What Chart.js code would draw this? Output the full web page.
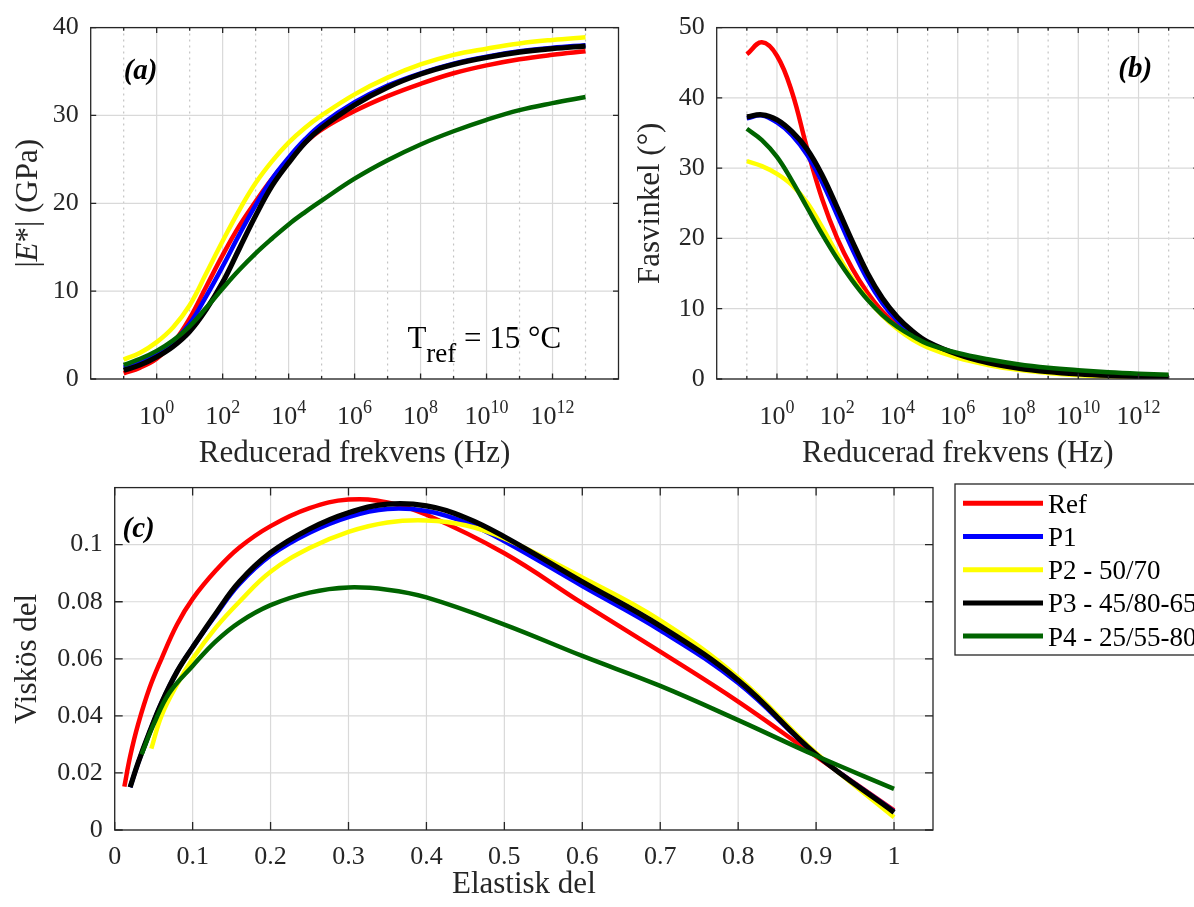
<!DOCTYPE html>
<html>
<head>
<meta charset="utf-8">
<title>Masterkurvor</title>
<script src="https://cdn.jsdelivr.net/npm/chart.js@4.4.1/dist/chart.umd.min.js"></script>
<style>
  html, body { margin: 0; padding: 0; background: #fff; }
  body { position: relative; width: 1194px; height: 907px; overflow: hidden; }
  canvas { position: absolute; }
  #chartA { left: 0; top: 0; }
  #chartB { left: 620px; top: 0; }
  #chartC { left: 0; top: 460px; }
</style>
</head>
<body>
<canvas id="chartA" width="660" height="490"></canvas>
<canvas id="chartB" width="600" height="490"></canvas>
<canvas id="chartC" width="1194" height="447"></canvas>
<script>
// --- data ---------------------------------------------------------------
const seriesNames = ['Ref', 'P1', 'P2 - 50/70', 'P3 - 45/80-65', 'P4 - 25/55-80'];

// reduced frequency, log10(Hz)
const freqExp = [-1, -0.5, 0, 0.5, 1, 1.5, 2, 2.5, 3, 3.5, 4, 4.5, 5, 6, 7, 8, 9, 10, 11, 12, 13];

// |E*| (GPa)
const modRef = [0.65, 1.3, 2.3, 4.1, 6.9, 10.5, 14.1, 17.4, 20.2, 22.8, 25.0, 26.9, 28.4, 30.5, 32.2, 33.6, 34.8, 35.7, 36.4, 36.9, 37.3];
const modP1  = [1.3, 1.9, 2.8, 4.2, 6.3, 9.4, 12.8, 16.4, 19.8, 22.8, 25.2, 27.3, 29.0, 31.5, 33.4, 34.8, 35.9, 36.7, 37.3, 37.7, 38.0];
const modP2  = [2.2, 3.0, 4.2, 5.9, 8.4, 12.0, 15.7, 19.2, 22.3, 24.8, 26.9, 28.6, 30.0, 32.4, 34.3, 35.8, 36.9, 37.6, 38.2, 38.6, 38.9];
const modP3  = [1.0, 1.6, 2.5, 3.7, 5.4, 7.9, 11.0, 14.8, 18.6, 22.0, 24.6, 26.9, 28.6, 31.2, 33.2, 34.7, 35.8, 36.6, 37.2, 37.6, 37.9];
const modP4  = [1.6, 2.3, 3.2, 4.4, 6.0, 8.1, 10.3, 12.4, 14.3, 16.0, 17.6, 19.0, 20.3, 22.8, 24.9, 26.7, 28.2, 29.5, 30.6, 31.4, 32.1];

// phase angle (degrees)
const phaseRef = [46.2, 47.9, 46.0, 40.8, 32.8, 25.6, 20.0, 15.7, 12.3, 9.6, 7.6, 6.1, 4.9, 3.3, 2.3, 1.55, 1.05, 0.72, 0.5, 0.35, 0.25];
const phaseP1  = [37.1, 37.5, 36.5, 34.7, 31.9, 28.0, 23.3, 18.5, 14.2, 10.8, 8.3, 6.5, 5.1, 3.4, 2.3, 1.55, 1.05, 0.72, 0.5, 0.36, 0.28];
const phaseP2  = [31.0, 30.3, 29.2, 27.6, 25.1, 21.6, 17.8, 14.3, 11.4, 9.0, 7.1, 5.6, 4.5, 3.0, 2.0, 1.3, 0.85, 0.55, 0.38, 0.27, 0.2];
const phaseP3  = [37.3, 37.6, 36.9, 35.2, 32.7, 29.0, 24.4, 19.6, 15.1, 11.5, 8.8, 6.8, 5.3, 3.5, 2.3, 1.55, 1.05, 0.72, 0.5, 0.36, 0.28];
const phaseP4  = [35.6, 34.0, 31.6, 28.2, 24.4, 20.6, 17.1, 14.0, 11.3, 9.1, 7.4, 6.1, 5.0, 3.7, 2.8, 2.1, 1.6, 1.25, 0.97, 0.76, 0.6];

// Cole-Cole: elastic part vs viscous part
const elastRef = [0.0124, 0.02, 0.03, 0.045, 0.06, 0.08, 0.1, 0.13, 0.16, 0.2, 0.25, 0.3, 0.35, 0.4, 0.5, 0.6, 0.7, 0.8, 0.9, 1.0];
const viskRef  = [0.0152, 0.026, 0.037, 0.050, 0.060, 0.072, 0.081, 0.091, 0.099, 0.1065, 0.1128, 0.1158, 0.1148, 0.1105, 0.097, 0.0795, 0.0625, 0.045, 0.0258, 0.0069];
const elastP1  = [0.0198, 0.03, 0.045, 0.06, 0.08, 0.1, 0.13, 0.16, 0.2, 0.25, 0.3, 0.35, 0.4, 0.45, 0.5, 0.6, 0.7, 0.8, 0.9, 1.0];
const viskP1   = [0.015, 0.0235, 0.0345, 0.0445, 0.0555, 0.064, 0.0755, 0.0862, 0.0962, 0.1042, 0.1097, 0.1125, 0.1118, 0.1078, 0.1012, 0.0855, 0.070, 0.0515, 0.0265, 0.0065];
const elastP2  = [0.047, 0.06, 0.08, 0.1, 0.13, 0.16, 0.2, 0.25, 0.3, 0.35, 0.4, 0.45, 0.5, 0.6, 0.7, 0.8, 0.9, 1.0];
const viskP2   = [0.0285, 0.040, 0.051, 0.060, 0.071, 0.080, 0.0905, 0.0988, 0.1045, 0.1078, 0.1085, 0.1068, 0.1022, 0.0885, 0.0735, 0.0535, 0.027, 0.0045];
const elastP3  = [0.0198, 0.03, 0.045, 0.06, 0.08, 0.1, 0.13, 0.16, 0.2, 0.25, 0.3, 0.35, 0.4, 0.45, 0.5, 0.6, 0.7, 0.8, 0.9, 1.0];
const viskP3   = [0.015, 0.0235, 0.0345, 0.0445, 0.0555, 0.064, 0.076, 0.087, 0.0972, 0.1055, 0.1112, 0.1142, 0.1136, 0.1095, 0.1028, 0.087, 0.0715, 0.0525, 0.0265, 0.0062];
const elastP4  = [0.0345, 0.05, 0.07, 0.1, 0.13, 0.16, 0.2, 0.25, 0.3, 0.35, 0.4, 0.5, 0.6, 0.7, 0.8, 0.9, 1.0];
const viskP4   = [0.0265, 0.037, 0.048, 0.0575, 0.0662, 0.0728, 0.0788, 0.0832, 0.085, 0.0842, 0.0815, 0.072, 0.061, 0.0505, 0.0385, 0.026, 0.0144];

// axes
const freqLimExp = [-2, 14];
const freqTickExp = [-1, 0, 1, 2, 3, 4, 5, 6, 7, 8, 9, 10, 11, 12, 13];
const freqLabelExp = [0, 2, 4, 6, 8, 10, 12];
const modTicks = [0, 10, 20, 30, 40];
const phaseTicks = [0, 10, 20, 30, 40, 50];
const elastTicks = [0, 0.1, 0.2, 0.3, 0.4, 0.5, 0.6, 0.7, 0.8, 0.9, 1];
const viskTicks = [0, 0.02, 0.04, 0.06, 0.08, 0.1];

// --- styling ------------------------------------------------------------
const seriesColors = ['#ff0000', '#0000ff', '#ffff00', '#000000', '#006400'];
const seriesWidths = [4.5, 4.5, 4.5, 5.2, 4.5];
const FONT = '"Liberation Serif", "Times New Roman", Times, serif';
const INK = '#262626';

const freqHz = freqExp.map(e => Math.pow(10, e));
const pairUp = (xs, ys) => xs.map((x, j) => ({ x: x, y: ys[j] }));

function lineSets(curves) {
  return curves.map((pts, i) => ({
    label: seriesNames[i],
    data: pts,
    borderColor: seriesColors[i],
    backgroundColor: seriesColors[i],
    borderWidth: seriesWidths[i],
    borderCapStyle: 'butt',
    pointRadius: 0,
    fill: false,
    tension: 0.4,
    order: curves.length - i   // last series ends up on top
  }));
}

function isOddDecade(v) {
  return Math.abs(Math.round(Math.log10(v))) % 2 === 1;
}

// draw a run of differently styled text pieces from (x, y) on the baseline
function drawParts(ctx, parts, x, y, align) {
  let total = 0;
  parts.forEach(p => { ctx.font = p.font; p.w = ctx.measureText(p.text).width; total += p.w; });
  let cx = align === 'center' ? x - total / 2 : x;
  parts.forEach(p => {
    ctx.font = p.font;
    ctx.fillText(p.text, cx, y + (p.dy || 0));
    cx += p.w;
  });
}

// box, inward ticks, major/minor grid, power-of-ten labels and notes
const matlabAxes = {
  id: 'matlabAxes',
  beforeDatasetsDraw(chart, args, o) {
    const { ctx, chartArea: a } = chart;
    const xs = chart.scales.x, ys = chart.scales.y;
    ctx.save();
    ctx.lineWidth = 1.2;
    xs.ticks.forEach(t => {
      const px = xs.getPixelForValue(t.value);
      const minor = o.logX && isOddDecade(t.value);
      ctx.strokeStyle = minor ? '#c4c4c4' : '#d9d9d9';
      ctx.setLineDash(minor ? [2, 4] : []);
      ctx.beginPath(); ctx.moveTo(px, a.top); ctx.lineTo(px, a.bottom); ctx.stroke();
    });
    ctx.setLineDash([]);
    ctx.strokeStyle = '#d9d9d9';
    ys.ticks.forEach(t => {
      const py = ys.getPixelForValue(t.value);
      ctx.beginPath(); ctx.moveTo(a.left, py); ctx.lineTo(a.right, py); ctx.stroke();
    });
    ctx.restore();
  },
  afterDatasetsDraw(chart, args, o) {
    const { ctx, chartArea: a } = chart;
    const xs = chart.scales.x, ys = chart.scales.y;
    const L = o.tickLen;
    ctx.save();
    ctx.strokeStyle = INK;
    ctx.lineWidth = 1.3;
    ctx.strokeRect(a.left, a.top, a.right - a.left, a.bottom - a.top);
    ctx.beginPath();
    xs.ticks.forEach(t => {
      const px = xs.getPixelForValue(t.value);
      const len = o.logX && isOddDecade(t.value) ? L * 0.55 : L;
      ctx.moveTo(px, a.bottom); ctx.lineTo(px, a.bottom - len);
      ctx.moveTo(px, a.top); ctx.lineTo(px, a.top + len);
    });
    ys.ticks.forEach(t => {
      const py = ys.getPixelForValue(t.value);
      ctx.moveTo(a.left, py); ctx.lineTo(a.left + L, py);
      ctx.moveTo(a.right, py); ctx.lineTo(a.right - L, py);
    });
    ctx.stroke();

    ctx.fillStyle = INK;
    ctx.textAlign = 'left';
    ctx.textBaseline = 'alphabetic';
    if (o.logX) {
      freqLabelExp.forEach(e => {
        const px = xs.getPixelForValue(Math.pow(10, e));
        drawParts(ctx, [
          { text: '10', font: '26px ' + FONT },
          { text: String(e), font: '18px ' + FONT, dy: -11.5 }
        ], px, a.bottom + 45, 'center');
      });
    }
    (o.notes || []).forEach(n => {
      ctx.fillStyle = n.color || INK;
      drawParts(ctx, n.parts, xs.getPixelForValue(n.x), ys.getPixelForValue(n.y), 'left');
    });
    if (o.yTitleParts) {
      ctx.translate(o.yTitleX, (a.top + a.bottom) / 2);
      ctx.rotate(-Math.PI / 2);
      ctx.fillStyle = INK;
      drawParts(ctx, o.yTitleParts, 0, 0, 'center');
    }
    ctx.restore();
  }
};

// boxed legend to the right of the Cole-Cole plot
const sideLegend = {
  id: 'sideLegend',
  afterDraw(chart, args, o) {
    const { ctx } = chart;
    ctx.save();
    ctx.fillStyle = '#fff';
    ctx.fillRect(o.left, o.top, o.width, o.height);
    ctx.strokeStyle = INK;
    ctx.lineWidth = 1.3;
    ctx.strokeRect(o.left, o.top, o.width, o.height);
    ctx.font = '27px ' + FONT;
    ctx.textBaseline = 'alphabetic';
    chart.data.datasets.forEach((ds, i) => {
      const yc = o.top + o.firstRow + i * o.rowStep;
      ctx.strokeStyle = ds.borderColor;
      ctx.lineWidth = 5;
      ctx.beginPath();
      ctx.moveTo(o.left + 8, yc); ctx.lineTo(o.left + 88, yc);
      ctx.stroke();
      ctx.fillStyle = '#000';
      ctx.fillText(ds.label, o.left + 93, yc + 9.5);
    });
    ctx.restore();
  }
};

const common = {
  responsive: false,
  animation: false,
  devicePixelRatio: 1,
  events: []
};

function logAxis(title, height, titlePad) {
  return {
    type: 'logarithmic',
    min: Math.pow(10, freqLimExp[0]),
    max: Math.pow(10, freqLimExp[1]),
    afterBuildTicks: s => { s.ticks = freqTickExp.map(e => ({ value: Math.pow(10, e) })); },
    afterFit: s => { s.height = height; },
    ticks: { display: false },
    grid: { display: false, drawTicks: false },
    border: { display: false },
    title: { display: true, text: title, color: INK, font: { family: FONT, size: 31 }, padding: { top: 0, bottom: titlePad } }
  };
}

function linAxis(tickVals, min, max, fit, title, titlePad) {
  const horizontal = fit.height !== undefined;
  return {
    type: 'linear',
    min: min,
    max: max,
    afterBuildTicks: s => { s.ticks = tickVals.map(v => ({ value: v })); },
    afterFit: s => { if (horizontal) s.height = fit.height; else s.width = fit.width; },
    ticks: { color: INK, font: { family: FONT, size: 26 }, padding: 12, autoSkip: false, maxRotation: 0, callback: v => String(v) },
    grid: { display: false, drawTicks: false },
    border: { display: false },
    title: title
      ? { display: true, text: title, color: INK, font: { family: FONT, size: 31 }, padding: horizontal ? { top: 0, bottom: titlePad } : { top: titlePad, bottom: 0 } }
      : { display: false }
  };
}

// (a) dynamic modulus master curves
new Chart(document.getElementById('chartA'), {
  type: 'line',
  data: { datasets: lineSets([modRef, modP1, modP2, modP3, modP4].map(ys => pairUp(freqHz, ys))) },
  options: Object.assign({}, common, {
    layout: { padding: { left: 0, top: 25, right: 41.5, bottom: 0 } },
    scales: {
      x: logAxis('Reducerad frekvens (Hz)', 111, 17.5),
      y: linAxis(modTicks, 0, 40, { width: 90.7 }, null, 0)
    },
    plugins: {
      legend: { display: false },
      tooltip: { enabled: false },
      matlabAxes: {
        logX: true,
        tickLen: 5.5,
        yTitleX: 36.5,
        yTitleParts: [
          { text: '|', font: '31px ' + FONT },
          { text: 'E', font: 'italic 31px ' + FONT },
          { text: '*', font: '31px ' + FONT },
          { text: '| (GPa)', font: '31px ' + FONT }
        ],
        notes: [
          { x: Math.pow(10, -1), y: 34.1, parts: [{ text: '(a)', font: 'italic bold 29px ' + FONT }], color: '#000' },
          { x: Math.pow(10, 7.6), y: 3.5, parts: [
            { text: 'T', font: '31px ' + FONT },
            { text: 'ref', font: '27px ' + FONT, dy: 14 },
            { text: ' = 15 °C', font: '31px ' + FONT }
          ], color: '#000' }
        ]
      }
    }
  }),
  plugins: [matlabAxes]
});

// (b) phase angle master curves
new Chart(document.getElementById('chartB'), {
  type: 'line',
  data: { datasets: lineSets([phaseRef, phaseP1, phaseP2, phaseP3, phaseP4].map(ys => pairUp(freqHz, ys))) },
  options: Object.assign({}, common, {
    layout: { padding: { left: 0, top: 25, right: 21.2, bottom: 0 } },
    scales: {
      x: logAxis('Reducerad frekvens (Hz)', 111, 17.5),
      y: linAxis(phaseTicks, 0, 50, { width: 96.7 }, 'Fasvinkel (°)', 12)
    },
    plugins: {
      legend: { display: false },
      tooltip: { enabled: false },
      matlabAxes: {
        logX: true,
        tickLen: 5.5,
        notes: [
          { x: Math.pow(10, 11.33), y: 42.9, parts: [{ text: '(b)', font: 'italic bold 29px ' + FONT }], color: '#000' }
        ]
      }
    }
  }),
  plugins: [matlabAxes]
});

// (c) Cole-Cole diagram with legend
new Chart(document.getElementById('chartC'), {
  type: 'line',
  data: {
    datasets: lineSets([
      pairUp(elastRef, viskRef),
      pairUp(elastP1, viskP1),
      pairUp(elastP2, viskP2),
      pairUp(elastP3, viskP3),
      pairUp(elastP4, viskP4)
    ])
  },
  options: Object.assign({}, common, {
    layout: { padding: { left: 0, top: 23, right: 261, bottom: 0 } },
    scales: {
      x: linAxis(elastTicks, 0, 1.05, { height: 77 }, 'Elastisk del', 4),
      y: linAxis(viskTicks, 0, 0.12, { width: 114.7 }, 'Viskös del', 9.2)
    },
    plugins: {
      legend: { display: false },
      tooltip: { enabled: false },
      matlabAxes: {
        tickLen: 8,
        notes: [
          { x: 0.01, y: 0.1027, parts: [{ text: '(c)', font: 'italic bold 29px ' + FONT }], color: '#000' }
        ]
      },
      sideLegend: { left: 955, top: 24, width: 260, height: 171, firstRow: 19.3, rowStep: 33.2 }
    }
  }),
  plugins: [matlabAxes, sideLegend]
});
</script>
</body>
</html>
